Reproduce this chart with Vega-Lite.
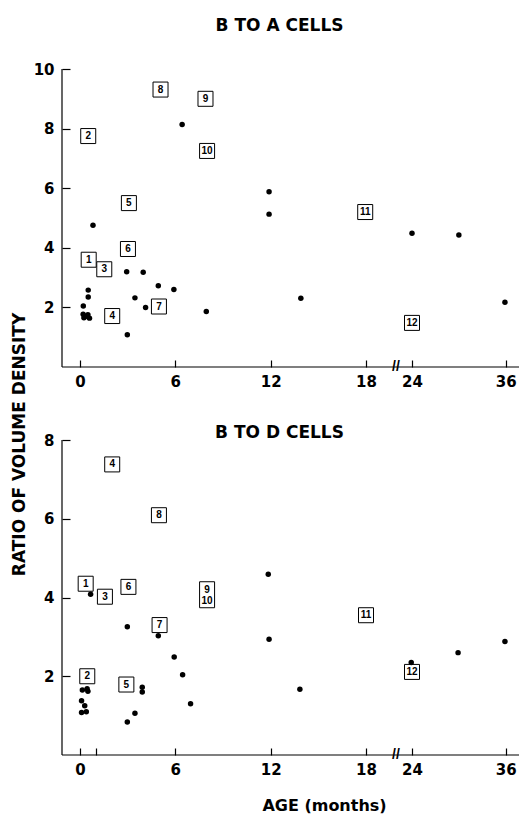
{
  "$schema": "https://vega.github.io/schema/vega-lite/v6.json",
  "background": "white",
  "autosize": {"type": "pad"},
  "padding": {"left": 10, "top": 17, "right": 0, "bottom": 4},
  "bounds": "flush",
  "spacing": 73,
  "config": {
    "view": {"stroke": null},
    "axis": {
      "grid": false,
      "domain": false,
      "ticks": true,
      "tickColor": "#000000",
      "labelColor": "black",
      "labelFont": "DejaVu Sans",
      "labelFontSize": 15,
      "labelFontWeight": "bold",
      "titleFont": "DejaVu Sans",
      "titleFontSize": 16,
      "titleFontWeight": "bold",
      "titleColor": "black",
      "tickWidth": 1.2
    },
    "title": {"font": "DejaVu Sans", "fontSize": 17, "fontWeight": "bold", "color": "black"}
  },
  "datasets": {
    "ba_dots": [
      {"age": 0.82, "ratio": 4.76}, {"age": 6.43, "ratio": 8.14}, {"age": 11.9, "ratio": 5.88},
      {"age": 11.9, "ratio": 5.13}, {"age": 13.9, "ratio": 2.31}, {"age": 24, "ratio": 4.49},
      {"age": 30, "ratio": 4.43}, {"age": 35.9, "ratio": 2.17}, {"age": 2.94, "ratio": 3.2},
      {"age": 3.98, "ratio": 3.18}, {"age": 4.93, "ratio": 2.73}, {"age": 5.91, "ratio": 2.6},
      {"age": 3.46, "ratio": 2.32}, {"age": 4.13, "ratio": 2.0}, {"age": 7.95, "ratio": 1.86},
      {"age": 2.98, "ratio": 1.08}, {"age": 0.52, "ratio": 2.58}, {"age": 0.52, "ratio": 2.35},
      {"age": 0.21, "ratio": 2.05}, {"age": 0.2, "ratio": 1.77}, {"age": 0.5, "ratio": 1.75},
      {"age": 0.25, "ratio": 1.65}, {"age": 0.6, "ratio": 1.64}, {"age": 0.4, "ratio": 1.7}
    ],
    "ba_boxes": [
      {"label": "1", "age": 0.55, "ratio": 3.6}, {"label": "2", "age": 0.52, "ratio": 7.75},
      {"label": "3", "age": 1.53, "ratio": 3.28}, {"label": "4", "age": 2.03, "ratio": 1.71},
      {"label": "5", "age": 3.08, "ratio": 5.5}, {"label": "6", "age": 3.02, "ratio": 3.96},
      {"label": "7", "age": 4.97, "ratio": 2.03}, {"label": "8", "age": 5.07, "ratio": 9.31},
      {"label": "9", "age": 7.9, "ratio": 9.0}, {"label": "10", "age": 8.0, "ratio": 7.25},
      {"label": "11", "age": 17.95, "ratio": 5.2}, {"label": "12", "age": 24, "ratio": 1.48}
    ],
    "bd_dots": [
      {"age": 0.67, "ratio": 4.08}, {"age": 11.85, "ratio": 4.59}, {"age": 2.98, "ratio": 3.26},
      {"age": 4.93, "ratio": 3.03}, {"age": 5.93, "ratio": 2.49}, {"age": 6.46, "ratio": 2.04},
      {"age": 3.92, "ratio": 1.72}, {"age": 3.92, "ratio": 1.6}, {"age": 6.96, "ratio": 1.3},
      {"age": 3.46, "ratio": 1.06}, {"age": 2.98, "ratio": 0.84}, {"age": 11.9, "ratio": 2.94},
      {"age": 13.84, "ratio": 1.67}, {"age": 23.9, "ratio": 2.35}, {"age": 29.9, "ratio": 2.6},
      {"age": 35.9, "ratio": 2.88}, {"age": 0.15, "ratio": 1.65}, {"age": 0.45, "ratio": 1.68},
      {"age": 0.5, "ratio": 1.62}, {"age": 0.1, "ratio": 1.38}, {"age": 0.3, "ratio": 1.25},
      {"age": 0.1, "ratio": 1.08}, {"age": 0.4, "ratio": 1.1}
    ],
    "bd_boxes": [
      {"label": "1", "age": 0.36, "ratio": 4.35}, {"label": "2", "age": 0.46, "ratio": 2.0},
      {"label": "3", "age": 1.57, "ratio": 4.02}, {"label": "4", "age": 2.03, "ratio": 7.38},
      {"label": "5", "age": 2.92, "ratio": 1.79}, {"label": "6", "age": 3.05, "ratio": 4.27},
      {"label": "7", "age": 5.01, "ratio": 3.3}, {"label": "8", "age": 4.97, "ratio": 6.09},
      {"label": "11", "age": 18.0, "ratio": 3.55}, {"label": "12", "age": 24.0, "ratio": 2.11}
    ],
    "bd_tall": [
      {"label": "9\n10", "age": 8.0, "ratio": 4.07}
    ],
    "brk": [
      {"age": 21.9, "ratio": 0, "mark": "//"}
    ],
    "ba_xline": [{"age": -1.13, "age2": 37.7, "ratio": 0}],
    "ba_yline": [{"age": -1.13, "ratio": 0, "ratio2": 10}],
    "bd_xline": [{"age": -1.13, "age2": 37.7, "ratio": 0}],
    "bd_yline": [{"age": -1.13, "ratio": 0, "ratio2": 8}]
  },
  "vconcat": [
    {
      "width": 457,
      "height": 298,
      "title": {"text": "B TO A CELLS", "offset": 27, "dx": -11},
      "encoding": {
        "x": {
          "field": "age", "type": "quantitative",
          "scale": {"domain": [-1.13, 18, 24, 37.7], "range": [0, 304, 350, 457], "nice": false, "zero": false},
          "axis": {"values": [0, 6, 12, 18, 24, 36], "title": null, "tickSize": -7, "labelPadding": 14}
        },
        "y": {
          "field": "ratio", "type": "quantitative",
          "scale": {"domain": [0, 10], "nice": false, "zero": false},
          "axis": {
            "values": [2, 4, 6, 8, 10], "tickSize": -8, "labelPadding": 16,
            "title": "RATIO OF VOLUME DENSITY", "titleFontSize": 17,
            "titleX": -43, "titleY": 375, "titleAngle": -90,
            "titleBaseline": "middle", "titleAlign": "center"
          }
        }
      },
      "layer": [
        {"data": {"name": "ba_xline"},
         "mark": {"type": "rule", "color": "black", "strokeWidth": 1.2},
         "encoding": {"x2": {"field": "age2"}}},
        {"data": {"name": "ba_yline"},
         "mark": {"type": "rule", "color": "black", "strokeWidth": 1.2},
         "encoding": {"y2": {"field": "ratio2"}}},
        {"data": {"name": "ba_boxes"},
         "mark": {"type": "point", "shape": "square", "filled": true, "fill": "white", "stroke": "black", "strokeWidth": 1, "size": 225, "opacity": 1}},
        {"data": {"name": "ba_boxes"},
         "mark": {"type": "text", "font": "Liberation Sans", "fontSize": 10, "fontWeight": "bold", "color": "black", "baseline": "middle", "align": "center"},
         "encoding": {"text": {"field": "label"}}},
        {"data": {"name": "ba_dots"},
         "mark": {"type": "circle", "size": 30, "color": "black", "opacity": 1}},
        {"data": {"name": "brk"},
         "mark": {"type": "text", "font": "Liberation Sans", "fontSize": 14, "fontWeight": "bold", "color": "black", "baseline": "middle", "align": "center"},
         "encoding": {"text": {"field": "mark"}}}
      ]
    },
    {
      "width": 457,
      "height": 315,
      "title": {"text": "B TO D CELLS", "offset": -9, "dx": -11},
      "encoding": {
        "x": {
          "field": "age", "type": "quantitative",
          "scale": {"domain": [-1.13, 18, 24, 37.7], "range": [0, 304, 350, 457], "nice": false, "zero": false},
          "axis": {
            "values": [0, 1, 6, 12, 18, 24, 36], "labelExpr": "datum.value == 1 ? '' : datum.label",
            "title": "AGE (months)", "tickSize": -7, "labelPadding": 14,
            "titleX": 262, "titlePadding": 20
          }
        },
        "y": {
          "field": "ratio", "type": "quantitative",
          "scale": {"domain": [0, 8], "nice": false, "zero": false},
          "axis": {"values": [2, 4, 6, 8], "tickSize": -8, "labelPadding": 16, "title": null}
        }
      },
      "layer": [
        {"data": {"name": "bd_xline"},
         "mark": {"type": "rule", "color": "black", "strokeWidth": 1.2},
         "encoding": {"x2": {"field": "age2"}}},
        {"data": {"name": "bd_yline"},
         "mark": {"type": "rule", "color": "black", "strokeWidth": 1.2},
         "encoding": {"y2": {"field": "ratio2"}}},
        {"data": {"name": "bd_boxes"},
         "mark": {"type": "point", "shape": "square", "filled": true, "fill": "white", "stroke": "black", "strokeWidth": 1, "size": 225, "opacity": 1}},
        {"data": {"name": "bd_tall"},
         "mark": {"type": "point", "shape": "M-0.577,-1L0.577,-1L0.577,1L-0.577,1Z", "filled": true, "fill": "white", "stroke": "black", "strokeWidth": 1, "size": 676, "opacity": 1}},
        {"data": {"name": "bd_boxes"},
         "mark": {"type": "text", "font": "Liberation Sans", "fontSize": 10, "fontWeight": "bold", "color": "black", "baseline": "middle", "align": "center"},
         "encoding": {"text": {"field": "label"}}},
        {"data": {"name": "bd_tall"},
         "mark": {"type": "text", "font": "Liberation Sans", "fontSize": 10, "fontWeight": "bold", "color": "black", "baseline": "middle", "align": "center", "lineBreak": "\n", "lineHeight": 11, "dy": -5},
         "encoding": {"text": {"field": "label"}}},
        {"data": {"name": "bd_dots"},
         "mark": {"type": "circle", "size": 30, "color": "black", "opacity": 1}},
        {"data": {"name": "brk"},
         "mark": {"type": "text", "font": "Liberation Sans", "fontSize": 14, "fontWeight": "bold", "color": "black", "baseline": "middle", "align": "center"},
         "encoding": {"text": {"field": "mark"}}}
      ]
    }
  ]
}
